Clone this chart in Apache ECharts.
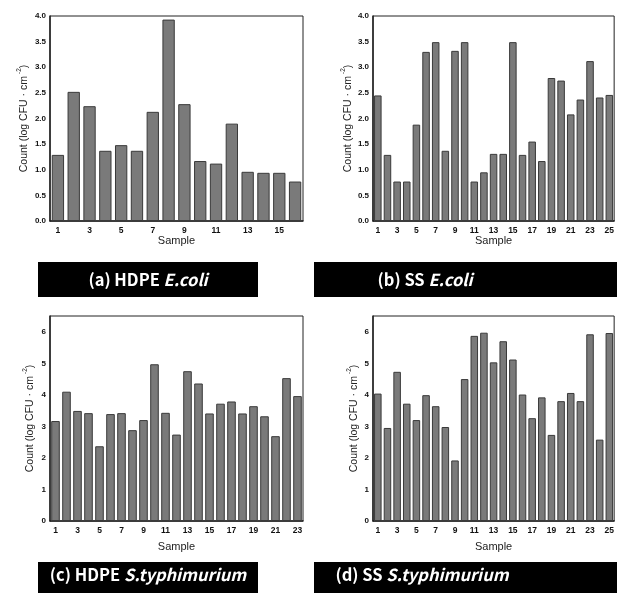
<!DOCTYPE html>
<html><head><meta charset="utf-8">
<script src="https://cdn.jsdelivr.net/npm/echarts@6/dist/echarts.min.js"></script>
<style>html,body{margin:0;padding:0;background:#fff}#c{width:617px;height:593px}</style>
</head><body><div id="c"></div>
<script>
const hdpeEcoli = [1.29,2.52,2.24,1.37,1.48,1.37,2.13,3.93,2.28,1.17,1.12,1.90,0.96,0.94,0.94,0.77];
const ssEcoli = [2.45,1.29,0.77,0.77,1.88,3.30,3.49,1.37,3.32,3.49,0.77,0.95,1.31,1.31,3.49,1.29,1.55,1.17,2.79,2.74,2.08,2.37,3.12,2.41,2.46];
const hdpeSty = [3.17,4.10,3.49,3.42,2.37,3.39,3.42,2.88,3.20,4.97,3.43,2.74,4.75,4.36,3.41,3.72,3.79,3.41,3.64,3.32,2.69,4.53,3.96];
const ssSty = [4.04,2.95,4.73,3.72,3.20,3.99,3.64,2.98,1.92,4.50,5.87,5.97,5.03,5.70,5.12,4.01,3.26,3.92,2.73,3.80,4.06,3.80,5.92,2.58,5.96];
const panelLabels = [["(a) HDPE ","E.coli"],["(b) SS ","E.coli"],["(c) HDPE ","S.typhimurium"],["(d) SS ","S.typhimurium"]];
const xName = "Sample";
const yName = "Count (log CFU · cm";

const panels = [
  {data: hdpeEcoli, grid:{left:50,top:16,width:253,height:205}, max:4, interval:0.5, dec:1, yGap:20, xGap:10},
  {data: ssEcoli, grid:{left:373,top:16,width:244,height:205}, max:4, interval:0.5, dec:1, yGap:19, xGap:10},
  {data: hdpeSty, grid:{left:50,top:316,width:253,height:205}, max:6.5, interval:1, dec:0, yGap:14, xGap:20},
  {data: ssSty, grid:{left:373,top:316,width:244,height:205}, max:6.5, interval:1, dec:0, yGap:13, xGap:20}
];
const F = "'Liberation Sans', Arial, sans-serif";
const opt = {animation:false, grid:[], xAxis:[], yAxis:[], series:[], graphic:[]};
panels.forEach((p,i)=>{
  opt.grid.push(Object.assign({show:true, borderColor:'#222', borderWidth:1, backgroundColor:'transparent'}, p.grid));
  opt.xAxis.push({type:'category', gridIndex:i, data:p.data.map((_,k)=>String(k+1)),
    name:xName, nameLocation:'middle', nameGap:p.xGap, nameTextStyle:{fontFamily:F,fontSize:11,color:'#222'},
    axisLine:{lineStyle:{color:'#222',width:1.5}}, axisTick:{show:false},
    axisLabel:{interval:1, fontFamily:F, fontSize:8.5, fontWeight:'bold', color:'#111', margin:5}});
  opt.yAxis.push({type:'value', gridIndex:i, min:0, max:p.max, interval:p.interval,
    name:'{a|'+yName+'}{s|-2}{a|)}', nameLocation:'middle', nameGap:p.yGap, nameRotate:90,
    nameTextStyle:{rich:{a:{fontFamily:F,fontSize:10.5,color:'#222',lineHeight:14,verticalAlign:'bottom'},s:{fontFamily:F,fontSize:6.5,color:'#222',lineHeight:14,verticalAlign:'top',padding:[0,0,0,2]}}},
    splitLine:{show:false}, axisLine:{show:true,lineStyle:{color:'#222',width:1.5}}, axisTick:{show:false},
    axisLabel:{showMaxLabel: p.max===4, fontFamily:F, fontSize:8, fontWeight:'bold', color:'#111', margin:4,
      formatter:v=>v.toFixed(p.dec)}});
  opt.series.push({type:'bar', xAxisIndex:i, yAxisIndex:i, data:p.data, barCategoryGap:'22%',
    itemStyle:{color:'#7a7a7a', borderColor:'#3a3a3a', borderWidth:1}});
});
const boxes = [
  {x:38,y:262,w:220,h:35,cx:148,cy:280},
  {x:314,y:262,w:303,h:35,cx:425,cy:280},
  {x:38,y:562,w:220,h:31,cx:148,cy:575},
  {x:314,y:562,w:303,h:31,cx:422,cy:575}
];
const LF = "'Noto Sans CJK KR', 'Noto Sans', sans-serif";
boxes.forEach((b,i)=>{
  opt.graphic.push({type:'rect', shape:{x:b.x,y:b.y,width:b.w,height:b.h}, style:{fill:'#000'}});
  opt.graphic.push({type:'text', x:b.cx, y:b.cy, style:{
    text:'{n|'+panelLabels[i][0]+'}{i|'+panelLabels[i][1]+'}', align:'center', verticalAlign:'middle',
    rich:{n:{fontFamily:LF,fontWeight:'bold',fontSize:16.5,fill:'#fff'},
          i:{fontFamily:LF,fontWeight:'bold',fontStyle:'italic',fontSize:16.5,fill:'#fff'}}}});
});
const chart = echarts.init(document.getElementById('c'), null, {renderer:'canvas'});
chart.setOption(opt);
</script></body></html>
